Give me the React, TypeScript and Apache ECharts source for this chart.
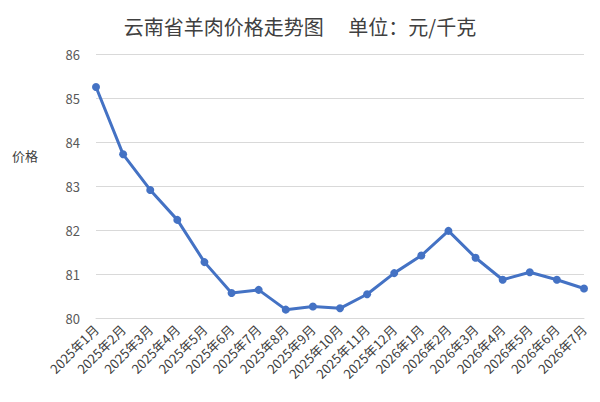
import React, { useEffect, useRef } from "react";
import * as echarts from "echarts";

const titleText = "云南省羊肉价格走势图　 单位：元/千克";
const yAxisName = "价格";
const categories = [
  "2025年1月", "2025年2月", "2025年3月", "2025年4月", "2025年5月", "2025年6月",
  "2025年7月", "2025年8月", "2025年9月", "2025年10月", "2025年11月", "2025年12月",
  "2026年1月", "2026年2月", "2026年3月", "2026年4月", "2026年5月", "2026年6月", "2026年7月",
];
const prices = [
  85.25, 83.72, 82.91, 82.23, 81.27, 80.57, 80.64, 80.19, 80.26, 80.22,
  80.54, 81.02, 81.42, 81.98, 81.37, 80.87, 81.04, 80.87, 80.67,
];

const FONT = "'Noto Sans CJK SC', 'Noto Sans', sans-serif";

export default function App() {
  const ref = useRef<HTMLDivElement>(null);
  useEffect(() => {
    document.body.style.margin = "0";
    if (!ref.current) return;
    const chart = echarts.init(ref.current, undefined, { renderer: "svg" });
    chart.setOption({
      animation: false,
      backgroundColor: "#ffffff",
      textStyle: { fontFamily: FONT },
      title: {
        text: titleText,
        left: "center",
        top: 11,
        textStyle: { fontFamily: FONT, fontSize: 20, fontWeight: "normal", color: "#404040" },
      },
      graphic: [
        {
          type: "text",
          left: 12,
          top: 149,
          style: { text: yAxisName, fontFamily: FONT, fontSize: 13, fill: "#404040" },
        },
      ],
      grid: { left: 96, right: 16, top: 54, bottom: 84, containLabel: false },
      xAxis: {
        type: "category",
        data: categories,
        boundaryGap: false,
        axisLine: { show: true, lineStyle: { color: "#d9d9d9", width: 1 } },
        axisTick: { show: false },
        axisLabel: {
          rotate: 45,
          interval: 0,
          margin: 9,
          fontSize: 13,
          color: "#404040",
          fontFamily: FONT,
        },
      },
      yAxis: {
        type: "value",
        min: 80,
        max: 86,
        interval: 1,
        axisLine: { show: false },
        axisTick: { show: false },
        axisLabel: { fontSize: 13, color: "#595959", margin: 16, fontFamily: FONT },
        splitLine: { lineStyle: { color: "#d9d9d9", width: 1 } },
      },
      series: [
        {
          type: "line",
          data: prices,
          symbol: "circle",
          symbolSize: 8,
          lineStyle: { color: "#4472C4", width: 3 },
          itemStyle: { color: "#4472C4" },
        },
      ],
    });
    return () => chart.dispose();
  }, []);
  return <div ref={ref} style={{ width: 600, height: 402 }} />;
}
